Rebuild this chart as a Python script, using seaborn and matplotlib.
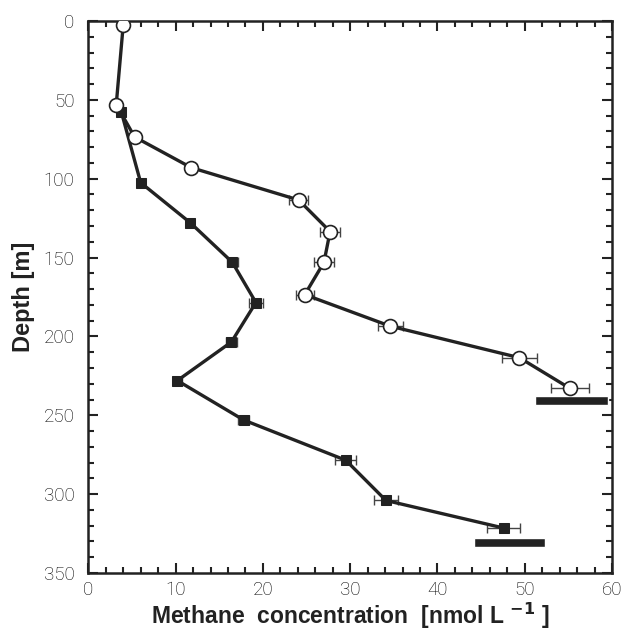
import numpy as np
import pandas as pd
import matplotlib
matplotlib.use("Agg")
import matplotlib.pyplot as plt
import seaborn as sns
from matplotlib.ticker import MultipleLocator

# open circles profile
open_conc = [4.0, 3.2, 5.3, 11.8, 24.1, 27.7, 27.0, 24.8, 34.6, 49.4, 55.2]
open_depth = [2.5, 53, 73.5, 93, 113.5, 133.5, 153, 173.5, 193.5, 213.5, 233]
open_err = [0, 0, 0, 0.5, 1.05, 1.15, 1.15, 1.05, 1.4, 2.0, 2.2]

# filled squares profile
fill_conc = [3.8, 6.0, 11.7, 16.5, 19.2, 16.4, 10.2, 17.8, 29.5, 34.1, 47.6]
fill_depth = [58, 102.5, 128, 153, 178.5, 203.5, 228, 253, 278.5, 304, 321.5]
fill_err = [0, 0.3, 0.4, 0.65, 0.8, 0.6, 0.5, 0.6, 1.2, 1.4, 1.9]

# bottom bars (sea floor): start, end, depth
floor_start = [51.2, 44.2]
floor_end = [59.5, 52.3]
floor_depth = [240.5, 330.5]

df_open = pd.DataFrame({"conc": open_conc, "depth": open_depth})
df_fill = pd.DataFrame({"conc": fill_conc, "depth": fill_depth})

sns.set_style("ticks")
plt.rcParams["font.family"] = ["Liberation Sans", "DejaVu Sans"]

fig = plt.figure(figsize=(6.25, 6.34), dpi=100)
ax = fig.add_axes([0.1413, 0.0962, 0.8379, 0.8707])

col = "#222222"

ax.errorbar(open_conc, open_depth, xerr=open_err, fmt="none", ecolor="#444444",
            elinewidth=1.0, capsize=3.8, capthick=1.0, zorder=2)
ax.errorbar(fill_conc, fill_depth, xerr=fill_err, fmt="none", ecolor="#444444",
            elinewidth=1.0, capsize=3.8, capthick=1.0, zorder=2)

sns.lineplot(data=df_fill, x="conc", y="depth", sort=False, estimator=None, ax=ax,
             color=col, linewidth=2.4, marker="s", markersize=7,
             markerfacecolor=col, markeredgecolor=col, zorder=3)
sns.lineplot(data=df_open, x="conc", y="depth", sort=False, estimator=None, ax=ax,
             color=col, linewidth=2.4, marker="o", markersize=10,
             markerfacecolor="white", markeredgecolor=col, markeredgewidth=1.2, zorder=4)

widths = [e - s for s, e in zip(floor_start, floor_end)]
ax.barh(floor_depth, widths, left=floor_start, height=5.5, color=col, zorder=3)

ax.set_xlim(0, 60)
ax.set_ylim(350, 0)
ax.xaxis.set_major_locator(MultipleLocator(10))
ax.xaxis.set_minor_locator(MultipleLocator(2))
ax.yaxis.set_major_locator(MultipleLocator(50))
ax.yaxis.set_minor_locator(MultipleLocator(10))
ax.tick_params(which="both", direction="in", top=True, right=True, color=col, width=1.5)
ax.tick_params(which="major", length=7, labelsize=13.5, labelcolor="#000000")
ax.tick_params(axis="y", which="major", pad=10)
ax.tick_params(axis="x", which="major", pad=6)
ax.tick_params(which="minor", length=4)
for lab in ax.get_xticklabels() + ax.get_yticklabels():
    lab.set_fontfamily(["Roboto", "DejaVu Sans"])
    lab.set_fontweight("light")
for s in ax.spines.values():
    s.set_linewidth(1.8)
    s.set_color(col)

ax.set_xlabel(r"Methane  concentration  [nmol L $^{\mathbf{-1}}$ ]", fontsize=16.5,
              fontweight="bold", color=col, labelpad=1)
ax.set_ylabel("Depth [m]", fontsize=17, fontweight="bold", color=col, labelpad=6)

fig.savefig("out.png", dpi=100)
